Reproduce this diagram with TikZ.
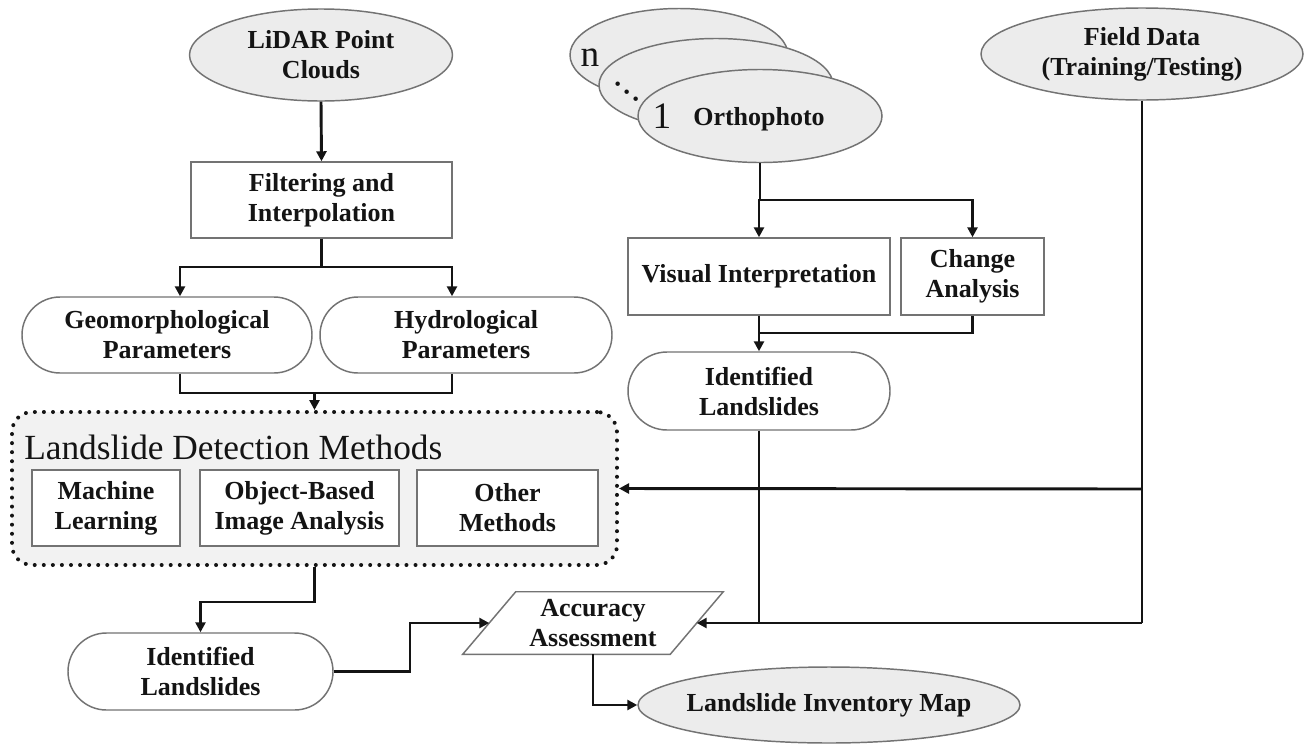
\documentclass[tikz,border=0pt]{standalone}
\usepackage{fontspec}
\setmainfont{Liberation Serif}
\usetikzlibrary{arrows.meta,shapes.geometric,shapes.misc,calc}
\definecolor{shapefill}{RGB}{236,236,236}
\definecolor{boxfill}{RGB}{242,242,242}
\definecolor{edgegray}{RGB}{115,115,115}
\definecolor{ink}{RGB}{20,20,20}
\tikzset{
 lbl/.style={font=\bfseries\fontsize{19.5}{22.5}\selectfont, align=center, text=ink},
 oval/.style={lbl, ellipse, draw=edgegray, line width=1.1pt, fill=shapefill, inner sep=0pt},
 procbox/.style={lbl, rectangle, draw=edgegray, line width=1.1pt, fill=white, inner sep=0pt},
 stadium/.style={lbl, rounded rectangle, draw=edgegray, line width=1.1pt, fill=white, inner sep=0pt},
 link/.style={draw=ink, line width=2.2pt},
 arr/.style={link, -{Triangle[length=7.5pt,width=7.5pt]}},
 dotbox/.style={rectangle, draw=ink, line width=3pt, dash pattern=on 0pt off 6.8pt, line cap=round, rounded corners=15pt, fill=boxfill, inner sep=0pt},
 bigtext/.style={font=\fontsize{28}{28}\selectfont, text=ink, inner sep=0pt},
}
\begin{document}
\begin{tikzpicture}[x=0.75pt,y=-0.75pt]
\useasboundingbox[fill=white] (0,0) rectangle (1306,743);

% left column
\node[oval, minimum width=197.25pt, minimum height=69pt] (lidar) at (321,55) {LiDAR Point\\Clouds};
\node[procbox, minimum width=195.75pt, minimum height=57pt] (filt) at (321.5,200) {Filtering and\\Interpolation};
\node[stadium, minimum width=217.5pt, minimum height=57pt] (geo) at (167,335) {Geomorphological\\Parameters};
\node[stadium, minimum width=219pt, minimum height=57pt] (hyd) at (466,335) {Hydrological\\Parameters};

\node[dotbox, minimum width=453.75pt, minimum height=114.75pt] (ldm) at (314.5,488.5) {};
\node[anchor=base west, inner sep=0pt, font=\fontsize{26.5}{26.5}\selectfont, text=ink] (ldmtitle) at (24,459) {Landslide Detection Methods};
\node[procbox, minimum width=111pt, minimum height=57pt] (ml) at (106,508) {Machine\\Learning};
\node[procbox, minimum width=149.25pt, minimum height=57pt] (oba) at (299.5,508) {Object-Based\\Image Analysis};
\node[procbox, minimum width=135.75pt, minimum height=57pt] (oth) at (507.5,508) {Other\\Methods};

\node[stadium, minimum width=198.75pt, minimum height=57.75pt] (identL) at (200.5,671.5) {Identified\\Landslides};

% accuracy assessment (parallelogram)
\node[lbl, minimum width=195pt, minimum height=46.5pt, inner sep=0pt] (acc) at (593,623) {};
\draw[draw=edgegray, line width=1.1pt, fill=white] (acc.south west) -- ([xshift=-39.75pt]acc.south east) -- (acc.north east) -- ([xshift=39.75pt]acc.north west) -- cycle;
\node[lbl, inner sep=0pt] (acctext) at (acc.center) {Accuracy\\Assessment};

\node[oval, minimum width=286.5pt, minimum height=57pt] (inv) at (829,705) {\makebox[0pt]{Landslide Inventory Map}};

% orthophoto stack
\node[oval, minimum width=163.5pt, minimum height=69.75pt] (o3) at (679,55) {};
\node[oval, minimum width=175.5pt, minimum height=69.75pt] (o2) at (716,85) {};
\node[oval, minimum width=183pt, minimum height=69.75pt] (o1) at (760,116) {};
\node[bigtext] (nlab) at (590,58) {n};
\node[bigtext, rotate=-40, anchor=base] (dots) at (626,93) {.\kern1.6pt.\kern1.6pt.};
\node[bigtext] (onelab) at (662,116) {1};
\node[lbl, anchor=base, inner sep=0pt] (ortho) at (759,125) {Orthophoto};

\node[procbox, minimum width=196.5pt, minimum height=57.75pt] (vis) at (759,276.5) {Visual Interpretation};
\node[procbox, minimum width=107.25pt, minimum height=57.75pt] (chg) at (972.5,276.5) {Change\\Analysis};
\node[stadium, minimum width=196.5pt, minimum height=58.5pt] (identR) at (759,391) {Identified\\Landslides};

\node[oval, minimum width=241.5pt, minimum height=69pt] (field) at (1142,54) {Field Data\\(Training/Testing)};

% junction coordinates
\coordinate (fsplit) at (321.5,267);
\coordinate (gmerge) at (314.5,393);
\coordinate (osplit) at (760,200);
\coordinate (vmerge) at (759,333);
\coordinate (fc1) at (1142,489);
\coordinate (fc2) at (1142,623);
\coordinate (lbend) at (410,623);

% connectors
\draw[arr] (lidar.south) -- (filt.north);
\draw[link] (filt.south) -- (fsplit);
\draw[arr] (fsplit) -| ([xshift=9.75pt]geo.north);
\draw[arr] (fsplit) -| ([xshift=-10.5pt]hyd.north);
\draw[link] ([xshift=9.75pt]geo.south) |- (gmerge) -| ([xshift=-10.5pt]hyd.south);
\draw[arr] (gmerge) -- (ldm.north);

\draw[link] (o1.south) -- (osplit);
\draw[arr] (osplit) -| (vis.north);
\draw[arr] (osplit) -| (chg.north);
\draw[link] (vis.south) -- (vmerge) -| (chg.south);
\draw[arr] (vmerge) -- (identR.north);

\draw[link] (field.south) -- (fc2);
\draw[arr] (fc1) -- (ldm.east);
\draw[arr] (fc2) -- ([xshift=-19.9pt]acc.east);
\draw[link] (identR.south) -- (identR.south |- fc2);

\draw[arr] (ldm.south) -- ++(0,35) -| (identL.north);
\draw[arr] (identL.east) -| (lbend) -- ([xshift=19.9pt]acc.west);
\draw[arr] (acc.south) |- (inv.west);
\end{tikzpicture}
\end{document}
